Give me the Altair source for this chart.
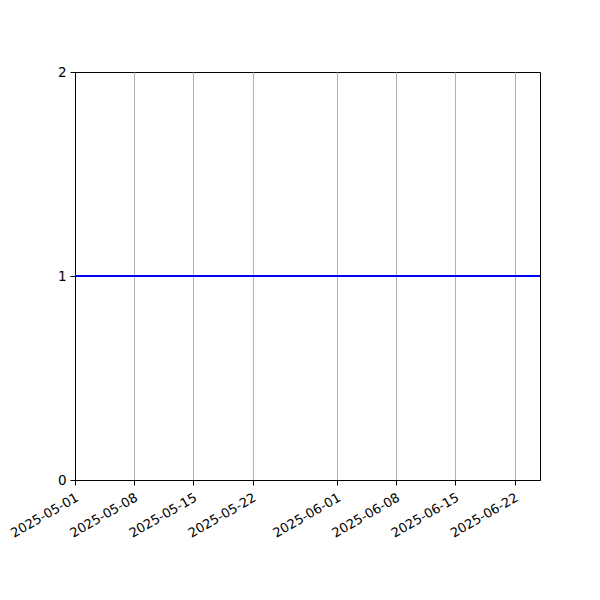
import altair as alt
import pandas as pd

dates = ["2025-05-01", "2025-06-25"]
values = [1, 1]
tick_dates = ["2025-05-01", "2025-05-08", "2025-05-15", "2025-05-22",
              "2025-06-01", "2025-06-08", "2025-06-15", "2025-06-22"]
y_ticks = [0, 1, 2]

df = pd.DataFrame({"date": dates, "value": values})

def dt(s):
    y, m, d = (int(p) for p in s.split("-"))
    return alt.DateTime(year=y, month=m, date=d, utc=True)

x_enc = alt.X(
    "date:T",
    scale=alt.Scale(type="utc", domain=[dt(dates[0]), dt(dates[-1])], nice=False),
    axis=alt.Axis(
        values=[dt(s) for s in tick_dates],
        labelExpr="utcFormat(datum.value, '%Y-%m-%d')",
        title=None,
        labelAngle=330,
        labelAlign="right",
        labelBaseline="top",
        labelFont="DejaVu Sans",
        labelFontSize=13,
        labelColor="black",
        labelPadding=6,
        labelOffset=-1,
        labelOverlap=False,
        labelFlush=False,
        tickColor="black",
        tickSize=5,
        domainColor="black",
        grid=True,
        gridColor="#b0b0b0",
        gridWidth=1,
    ),
)

y_enc = alt.Y(
    "value:Q",
    scale=alt.Scale(domain=[0, 2], nice=False, zero=False),
    axis=alt.Axis(
        values=y_ticks,
        labelExpr="format(datum.value, 'd')",
        title=None,
        grid=False,
        labelFont="DejaVu Sans",
        labelFontSize=13.5,
        labelColor="black",
        labelPadding=4,
        labelOverlap=False,
        labelFlush=False,
        tickColor="black",
        tickSize=5,
        domainColor="black",
    ),
)

chart = (
    alt.Chart(df)
    .mark_line(color="#0000ff", strokeWidth=2)
    .encode(x=x_enc, y=y_enc)
    .properties(
        width=465,
        height=408,
        autosize=alt.AutoSizeParams(type="none"),
        padding={"left": 67, "top": 64, "right": 52, "bottom": 112},
    )
    .configure(background="white")
    .configure_view(stroke="black", strokeWidth=1)
)

chart.save("out.html", embed_options={"renderer": "svg", "actions": False})
